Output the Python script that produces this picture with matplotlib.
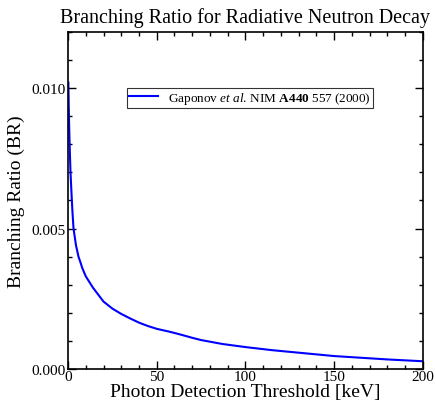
import matplotlib.pyplot as plt
from matplotlib.ticker import MultipleLocator

plt.rcParams['font.family'] = ['Liberation Serif', 'DejaVu Serif']
plt.rcParams['mathtext.fontset'] = 'custom'
plt.rcParams['mathtext.rm'] = 'Liberation Serif'
plt.rcParams['mathtext.it'] = 'Liberation Serif:italic'
plt.rcParams['mathtext.bf'] = 'Liberation Serif:bold'

# threshold [keV] and branching ratio
threshold = [0.2, 0.4, 0.7, 1.0, 1.4, 2.0, 2.5, 3.1, 3.8, 4.5, 5.2, 5.9, 7.0, 8.0, 9.0,
             10, 12, 14, 17, 20, 25, 30, 35, 40, 45, 50, 57, 62, 70, 75, 87, 100,
             115, 130, 150, 165, 180, 200]
branching = [0.0102, 0.0094, 0.0085, 0.0078, 0.0070, 0.0062, 0.0056, 0.0050, 0.0047,
             0.0044, 0.0042, 0.0040, 0.0038, 0.0036, 0.00345, 0.0033, 0.0031, 0.0029,
             0.00265, 0.0024, 0.00215, 0.00196, 0.0018, 0.00165, 0.00153, 0.00143,
             0.00133, 0.00125, 0.00111, 0.00103, 0.00089, 0.00078, 0.00067, 0.00058,
             0.00046, 0.00040, 0.00034, 0.000275]

legend_label = r'Gaponov $\mathit{et\ al.}\,$NIM $\mathbf{A440}$ 557 (2000)'

fig = plt.figure(figsize=(4.36, 4.10), dpi=100)
ax = fig.add_axes([0.156, 0.0976, 0.814, 0.822])

ax.plot(threshold, branching, color='#0000ff', lw=1.5, label=legend_label)

ax.set_xlim(0, 200)
ax.set_ylim(0, 0.012)
ax.xaxis.set_major_locator(MultipleLocator(50))
ax.xaxis.set_minor_locator(MultipleLocator(10))
ax.yaxis.set_major_locator(MultipleLocator(0.005))
ax.yaxis.set_minor_locator(MultipleLocator(0.001))
ax.yaxis.set_major_formatter(plt.FuncFormatter(lambda v, p: f'{v:.3f}'))

ax.tick_params(which='both', direction='in', top=True, right=True, labelsize=11,
               width=1, colors='black')
ax.tick_params(which='major', length=6)
ax.tick_params(axis='x', which='major', pad=1)
ax.tick_params(axis='y', which='major', pad=2)
ax.tick_params(which='minor', length=3)
for s in ax.spines.values():
    s.set_linewidth(1.2)

ax.set_title('Branching Ratio for Radiative Neutron Decay', fontsize=14.5, pad=7)
ax.set_xlabel('Photon Detection Threshold [keV]', fontsize=14, labelpad=0)
ax.set_ylabel('Branching Ratio (BR)', fontsize=14, labelpad=4)

leg = ax.legend(loc='upper left', bbox_to_anchor=(0.165, 0.835), fontsize=9.5,
                frameon=True, fancybox=False, handlelength=2.2, borderpad=0.15,
                handletextpad=0.8, borderaxespad=0)
leg.get_frame().set_edgecolor('black')
leg.get_frame().set_linewidth(0.8)

fig.savefig('out.png', dpi=100)
